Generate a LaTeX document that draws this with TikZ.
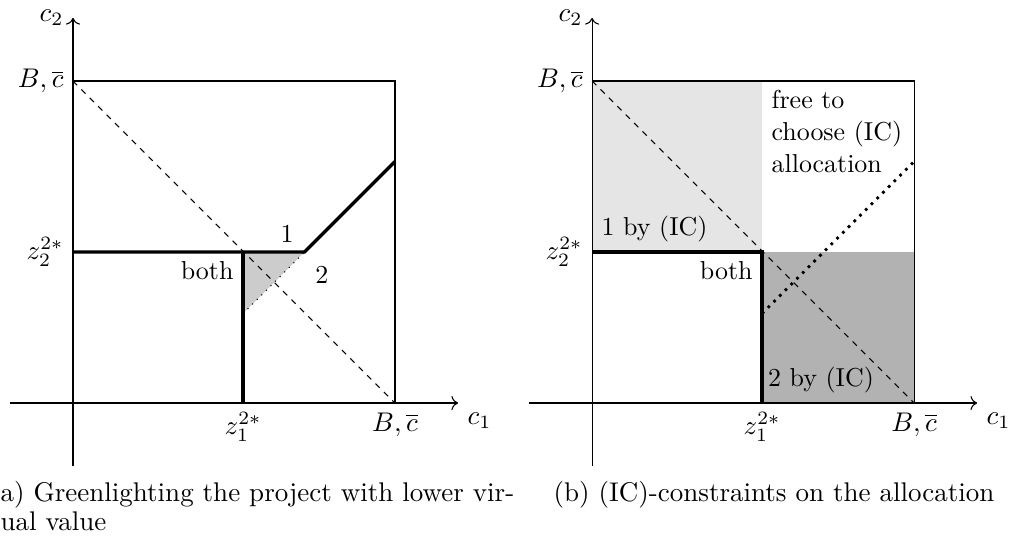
\documentclass[tikz,border=0pt]{standalone}
\usepackage{amsmath,amssymb}
\usepackage{tikz}
\usetikzlibrary{arrows.meta}
\newcommand{\zx}{0.528}
\newcommand{\zy}{0.469}
\tikzset{
  axis/.style={->},
  frontier/.style={very thick},
  guide/.style={dash pattern=on 2.2pt off 2.2pt},
  lbl/.style={font=\fontsize{9.6}{11.7}\selectfont},
  capt/.style={font=\fontsize{10}{10.9}\selectfont, anchor=base west, inner sep=0pt}
}

\begin{document}
\begin{tikzpicture}[x=4.19cm, y=4.19cm, every node/.style={lbl}]
\useasboundingbox (-0.2267,-0.4161) rectangle (2.9068,1.2516);

% ---------------- (a) greenlighting ------------------------------------
\begin{scope}[shift={(0,0)}]
  \fill[gray!40] (\zx,\zy) -- (\zy+0.25,\zy) -- (\zx,\zx-0.25) -- cycle;
  \draw (0,1) -- (1,1) -- (1,0);
  \draw[guide] (0,1) -- (1,0);
  \draw[dotted] (\zx,\zx-0.25) -- (\zy+0.25,\zy);
  \draw[frontier] (0,\zy) -- (\zy+0.25,\zy) -- (1,0.75);
  \draw[frontier] (\zx,\zy) -- (\zx,0);
  \draw[axis] (-0.196,0) -- (1.196,0) node[anchor=north west] (ac1) {$c_1$};
  \draw[axis] (0,-0.196) -- (0,1.196) node[anchor=east] (ac2) {$c_2$};
  \node[anchor=east] (aBy) at (0,1) {$B,\overline{c}$};
  \node[anchor=north] (aBx) at (1,0) {$B,\overline{c}$};
  \node[anchor=east] (az2) at (0,\zy) {$z_2^{2*}$};
  \node[anchor=north] (az1) at (\zx,0) {$z_1^{2*}$};
  \node[anchor=north east] (aboth) at (\zx,\zy) {both};
  \node[anchor=south] (aone) at (0.665,\zy) {1};
  \node (atwo) at (0.773,0.398) {2};
  \node[capt] (acap) at (-0.259,-0.307)
    {(a) Greenlighting the project with lower vir-};
  \node[capt] (acap2) at ([yshift=-10.7pt]acap.base west) {tual value};
\end{scope}

% ---------------- (b) IC constraints -----------------------------------
\begin{scope}[shift={(1.612,0)}]
  \fill[gray!20] (0,\zy) rectangle (\zx,1);
  \fill[gray!60] (\zx,0) rectangle (1,\zy);
  \draw (0,1) -- (1,1) -- (1,0);
  \draw[guide] (0,1) -- (1,0);
  \draw[line width=1pt, dotted] (\zx,\zx-0.25) -- (1,0.75);
  \draw[frontier] (0,\zy) -| (\zx,0);
  \draw[axis] (-0.196,0) -- (1.196,0) node[anchor=north west] (bc1) {$c_1$};
  \draw[axis] (0,-0.196) -- (0,1.196) node[anchor=east] (bc2) {$c_2$};
  \node[anchor=east] (bBy) at (0,1) {$B,\overline{c}$};
  \node[anchor=north] (bBx) at (1,0) {$B,\overline{c}$};
  \node[anchor=east] (bz2) at (0,\zy) {$z_2^{2*}$};
  \node[anchor=north] (bz1) at (\zx,0) {$z_1^{2*}$};
  \node[anchor=north east] (bboth) at (\zx,\zy) {both};
  \node[anchor=south west] (bone) at (0,\zy) {1 by (IC)};
  \node[anchor=south west, inner xsep=2pt, inner ysep=3.5pt] (btwo) at (\zx,0) {2 by (IC)};
  \node[anchor=north west, align=left] (bfree) at (\zx,1) {free to\\choose (IC)\\allocation};
  \node[capt] (bcap) at (-0.121,-0.307)
    {(b) (IC)-constraints on the allocation};
\end{scope}

\end{tikzpicture}
\end{document}
